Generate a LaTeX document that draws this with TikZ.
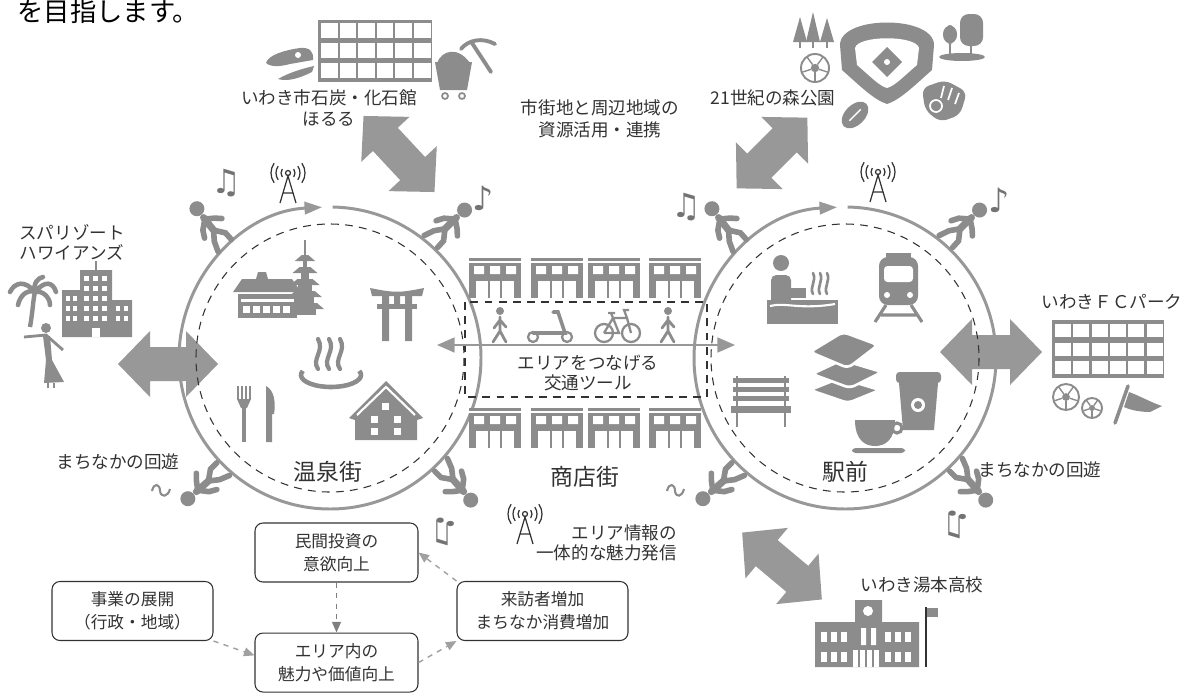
\documentclass[tikz,border=0pt]{standalone}
\usepackage{fontspec}
\setmainfont{Noto Sans CJK JP}
\newfontfamily\notefont{DejaVu Sans}
\usetikzlibrary{positioning, arrows.meta}

\definecolor{ink}{RGB}{50,50,50}
\definecolor{icon}{RGB}{140,140,140}
\definecolor{ring}{RGB}{152,152,152}
\definecolor{flow}{RGB}{160,160,160}
\definecolor{notegray}{RGB}{115,115,115}

\tikzset{
  % wide two-headed arrow between the areas
  pics/twoway/.style={code={
    \fill[ring] (-#1,0) -- (-#1+32,-33) -- (-#1+32,-17) -- (#1-32,-17) -- (#1-32,-33)
      -- (#1,0) -- (#1-32,33) -- (#1-32,17) -- (-#1+32,17) -- (-#1+32,33) -- cycle;
  }},
  pics/walker/.style={code={
    \fill[icon] (1,-22) circle (7.5);
    \draw[icon, line width=4pt, line cap=round] (0,-11) -- (-1,5);
    \draw[icon, line width=3.2pt, line cap=round]
      (-1,5) -- (-8,14) -- (-12,24) (-1,5) -- (6,15) -- (6,24)
      (0,-9) -- (-9,-2) -- (-13,5) (0,-9) -- (8,-3) -- (13,2);
  }},
  pics/pedestrian/.style={code={
    \fill[icon] (0,-17) circle (4);
    \draw[icon, line width=1.6pt, line cap=round]
      (0,-11) -- (0,3) -- (-7,14) (0,3) -- (6,14) (0,-8) -- (-6,0) (0,-8) -- (6,-1);
  }},
  pics/antenna/.style={code={
    \draw[ink, line width=0.7pt] (-8,27) -- (0,0) -- (8,27) (-5,17) -- (5,17);
    \draw[ink, line width=0.7pt] (0,-3) circle (2.5);
    \foreach \r in {7,12,17}{
      \draw[ink, line width=0.7pt] (0,-3) ++(145:\r) arc (145:215:\r);
      \draw[ink, line width=0.7pt] (0,-3) ++(-35:\r) arc (-35:35:\r);
    }
  }},
  pics/shop/.style={code={
    \fill[icon] (-26,-20) rectangle (26,20);
    \fill[white] (-21,-12) rectangle (-11,-4) (-5,-12) rectangle (5,-4) (11,-12) rectangle (21,-4);
    \fill[white] (-19,3) rectangle (19,20);
    \draw[icon, line width=0.8pt] (-6,3) -- (-6,20) (6,3) -- (6,20);
    \draw[white, line width=0.6pt] (-26,-16) -- (26,-16);
  }},
  pics/ball/.style={code={
    \draw[icon, line width=1.1pt] (0,0) circle (#1);
    \fill[icon] (0,0) circle (#1*0.3);
    \foreach \a in {18,90,162,234,306}
      \draw[icon, line width=0.8pt] (\a:#1*0.3) -- (\a:#1);
  }},
}

\begin{document}
\begin{tikzpicture}[x=0.02cm, y=-0.02cm,
  lbl/.style={text=ink, font=\fontsize{10}{11.5}\selectfont, align=center, inner sep=1pt},
  area/.style={text=ink, font=\fontsize{13}{15}\selectfont, inner sep=1pt},
  flowbox/.style={draw=ink, line width=0.6pt, rounded corners=4.5pt, text=ink,
    font=\fontsize{9.5}{13}\selectfont, align=center, minimum height=1.18cm},
  flowarrow/.style={flow, line width=0.8pt, dashed, -{Triangle[length=6pt, width=5pt]}},
  note/.style={text=notegray, font=\notefont\fontsize{19}{19}\selectfont, inner sep=0pt}]
\useasboundingbox (0,0) rectangle (1185,693);

\node[anchor=west, text=black, font=\fontsize{15}{17}\selectfont, inner sep=0pt] (goal) at (17,11) {を目指します。};

\coordinate (onsenC) at (330,358);
\coordinate (ekiC) at (845,358);

% links to the places around town
\pic[rotate=-47] at (399,154) {twoway=52};
\pic[rotate=45] at (772,153) {twoway=50};
\pic[rotate=-40] at (782,566) {twoway=52};
\pic at (168,364) {twoway=50};
\pic at (991,352) {twoway=51};

% the two loops
\foreach \c in {onsenC, ekiC}{
  \draw[ink, line width=0.6pt, dash pattern=on 4.5pt off 3.5pt] (\c) circle (134);
  \draw[ring, line width=1.7pt, -{Triangle[length=10pt, width=7pt]}] (\c) ++(271:151) arc (271:627:151);
}

% shopping street
\draw[ink, line width=0.6pt, dash pattern=on 4.5pt off 3.5pt] (465,302) rectangle (707,397);
\foreach \x in {495,557,614,675}{
  \pic at (\x,278) {shop};
  \pic at (\x,428) {shop};
}
\pic at (500,328) {pedestrian};
\pic at (668,328) {pedestrian};
% scooter
\draw[icon, line width=1.3pt] (533,337) circle (5) (567,337) circle (5);
\draw[icon, line width=2pt, line cap=round] (533,333) -- (565,333) -- (558,312) -- (553,312);
% bicycle
\draw[icon, line width=1.3pt] (604,333) circle (9) (631,333) circle (9);
\draw[icon, line width=1.3pt] (604,333) -- (613,318) -- (627,318) -- (631,333)
  (613,318) -- (619,333) -- (604,333) (627,318) -- (624,310) -- (629,310)
  (613,318) -- (611,313) (608,313) -- (615,313);
\coordinate (streetW) at (437,345);
\coordinate (streetE) at (735,345);
\draw[ring, line width=1.1pt, {Triangle[length=10pt, width=8.5pt]}-{Triangle[length=10pt, width=8.5pt]}] (streetW) -- (streetE);

% people walking round the loops
\foreach \c in {onsenC, ekiC}
  \foreach \a in {45,135,228,312}
    \pic[rotate=270-\a] at ([shift={(\a:178)}]\c) {walker};
\node[note] (n1) at (226,183) {♫};
\node[note] (n2) at (483,198) {♪};
\node[note] (n3) at (686,207) {♫};
\node[note] (n4) at (999,200) {♪};
\node[note, rotate=180] (n5) at (446,532) {♫};
\node[note, rotate=180] (n6) at (958,525) {♫};
\draw[icon, line width=1.2pt] (152,491) .. controls (154,482) and (160,484) .. (160,491) .. controls (161,498) and (168,497) .. (170,489);
\draw[icon, line width=1.2pt] (667,491) .. controls (669,482) and (675,484) .. (675,491) .. controls (676,498) and (682,497) .. (684,489);
\pic at (288,176) {antenna};
\pic at (878,175) {antenna};
\pic at (525,517) {antenna};

% hot spring town
\draw[icon, line width=1.2pt] (305,240) -- (305,258);
\foreach \i in {0,...,4}{
  \pgfmathsetmacro\w{19-2.2*\i}
  \fill[icon] (305-\w,309-12*\i) -- (305+\w,309-12*\i) -- (305+\w-7,303-12*\i) -- (305-\w+7,303-12*\i) -- cycle;
  \fill[icon] (305-\w+8,309-12*\i) rectangle (305+\w-8,315-12*\i);
}
\fill[icon] (233,292) -- (301,292) -- (292,279) -- (268,279) -- (266,272) -- (258,272) -- (256,279) -- (242,279) -- cycle;
\fill[icon] (238,294) rectangle (297,318);
\fill[white] (241,299) rectangle (294,302);
\foreach \x in {243,253,263,273,283} \fill[white] (\x,306) rectangle (\x+7,313);
\fill[icon] (370,288) .. controls (395,293) and (399,293) .. (424,288) -- (422,296) -- (372,296) -- cycle;
\fill[icon] (377,304) rectangle (417,309);
\fill[icon] (382,296) rectangle (389,341) (405,296) rectangle (412,341) (394,296) rectangle (400,304);
\draw[icon, line width=2.6pt] (331,375) ++(200:30 and 12) arc[start angle=200, end angle=-20, x radius=30, y radius=12];
\foreach \x in {318,329,340}
  \draw[icon, line width=2.4pt, line cap=round] (\x,369) .. controls (\x-7,359) and (\x+7,351) .. (\x,339);
\foreach \x in {238,242,246,250} \draw[icon, line width=1.2pt] (\x,386) -- (\x,400);
\fill[icon] (237,399) -- (251,399) -- (247,408) -- (241,408) -- cycle;
\fill[icon] (242,406) rectangle (246,442);
\fill[icon] (266,442) -- (266,386) .. controls (274,390) and (276,402) .. (274,414) -- (272,414) -- (272,442) -- cycle;
\fill[icon] (349,418) -- (386,381) -- (423,418) -- (417,420) -- (417,440) -- (355,440) -- (355,420) -- cycle;
\draw[white, line width=1.2pt] (357,415) -- (386,387) -- (415,415);
\foreach \x/\y in {371/416,394/416,371/428,394/428,382/403} \fill[white] (\x,\y) rectangle (\x+7,\y+7);

% station front
\fill[icon] (781,263) circle (8);
\fill[icon, rounded corners=3pt] (771,275) rectangle (791,305);
\fill[icon] (785,288) rectangle (806,298);
\fill[icon] (767,300) rectangle (838,324);
\draw[white, line width=1.2pt] (770,306) .. controls (785,302) and (800,310) .. (835,304);
\foreach \x in {813,820,827}
  \draw[icon, line width=1.5pt, line cap=round] (\x,294) .. controls (\x-4,287) and (\x+4,281) .. (\x,273);
\fill[icon] (886,253) rectangle (911,258);
\fill[icon, rounded corners=5pt] (879,257) rectangle (918,305);
\fill[white, rounded corners=2pt] (884,266) rectangle (913,282);
\fill[white] (887,295) circle (3) (910,295) circle (3);
\draw[icon, line width=1.8pt] (886,305) -- (875,322) (911,305) -- (922,322) (881,315) -- (916,315);
\foreach \y in {378,387,396} \fill[icon] (733,\y) rectangle (789,\y+5);
\fill[icon] (731,406) rectangle (791,413);
\draw[icon, line width=1.6pt] (737,376) -- (737,427) (785,376) -- (785,427);
\fill[icon, draw=white, line width=1.5pt, rounded corners=3pt] (810,390) -- (840,378) -- (880,390) -- (848,403) -- cycle;
\fill[icon, draw=white, line width=1.5pt, rounded corners=3pt] (812,374) -- (842,360) -- (882,372) -- (850,388) -- cycle;
\fill[icon, draw=white, line width=1.5pt, rounded corners=3pt] (810,352) -- (843,332) -- (878,345) -- (848,368) -- cycle;
\fill[icon, rounded corners=2pt] (896,372) rectangle (941,383);
\fill[icon] (899,383) -- (938,383) -- (934,430) -- (903,430) -- cycle;
\fill[white] (918,405) circle (7);
\fill[icon] (918,405) circle (4);
\fill[icon] (855,420) -- (895,420) .. controls (895,440) and (885,446) .. (875,446) .. controls (865,446) and (855,440) .. (855,420) -- cycle;
\draw[icon, line width=1.8pt] (897,428) circle (5);
\fill[icon, rounded corners=2pt] (852,448) rectangle (905,453);

% coal and fossil museum
\fill[icon] (318,20) rectangle (432,82);
\foreach \i in {0,...,5}
  \foreach \j in {0,1,2}
    \fill[white] (321+18.6*\i,23+20*\j) rectangle (337.5+18.6*\i,38+20*\j);
\fill[icon] (266,63) .. controls (268,55) and (285,50) .. (300,48) .. controls (310,47) and (314,52) .. (313,60) -- (290,64) .. controls (282,66) and (272,68) .. (266,63) -- cycle;
\fill[icon] (278,79) .. controls (290,72) and (305,68) .. (314,66) -- (312,72) .. controls (300,78) and (288,82) .. (278,79) -- cycle;
\fill[white] (298,55) circle (3);
\fill[icon] (435,62) -- (472,62) -- (467,90) -- (440,90) -- cycle;
\fill[icon] (437,63) .. controls (442,50) and (458,46) .. (470,63) -- cycle;
\draw[icon, line width=1pt] (445,96) circle (3) (462,96) circle (3);
\draw[icon, line width=2.2pt, line cap=round] (472,43) -- (491,72);
\draw[icon, line width=2.2pt, line cap=round] (461,49) .. controls (468,40) and (482,37) .. (495,44);

% forest park
\foreach \x/\t in {800/17,813/12,827/18}{
  \fill[icon] (\x,\t) -- (\x+7,42) -- (\x-7,42) -- cycle;
  \draw[icon, line width=1pt] (\x,42) -- (\x,48);
}
\pic at (815,68) {ball=14};
\fill[icon] (840,45) .. controls (840,15) and (934,15) .. (934,45) -- (932,70) .. controls (915,85) and (900,100) .. (887,104) .. controls (874,100) and (859,85) .. (842,70) -- cycle;
\fill[white] (855,48) .. controls (858,35) and (916,35) .. (919,48) -- (917,65) .. controls (905,75) and (895,86) .. (887,88) .. controls (879,86) and (869,75) .. (857,65) -- cycle;
\fill[icon] (887,47) -- (902,62) -- (887,77) -- (872,62) -- cycle;
\fill[white] (887,62) circle (3);
\fill[icon, rotate around={45:(855,115)}] (855,115) ellipse (16 and 10);
\draw[white, line width=0.8pt, rotate around={45:(855,115)}] (847,115) -- (863,115);
\fill[icon, rounded corners=4pt] (922,88) -- (945,80) -- (967,92) -- (960,115) -- (940,122) -- (925,110) -- cycle;
\draw[white, line width=1pt] (936,106) circle (6) (944,86) -- (941,98) (952,88) -- (948,100) (959,93) -- (955,104);
\fill[icon] (962,57) ellipse (23 and 4);
\fill[icon, rounded corners=5pt] (943,25) rectangle (957,44) (960,14) rectangle (983,46);
\draw[icon, line width=1.4pt] (950,44) -- (950,56) (971,46) -- (971,56);

% spa resort
\fill[icon] (80,270) rectangle (112,337) (62,290) rectangle (80,337) (112,300) rectangle (132,337);
\draw[icon, line width=1pt] (96,261) -- (96,270);
\foreach \y in {276,286,...,316} \foreach \x in {84,93,102} \fill[white] (\x,\y) rectangle (\x+5,\y+5);
\foreach \y in {296,306,316} \foreach \x in {66,73} \fill[white] (\x,\y) rectangle (\x+4,\y+5);
\foreach \y in {306,316} \foreach \x in {116,124} \fill[white] (\x,\y) rectangle (\x+4,\y+5);
\fill[white] (92,328) rectangle (100,337);
\draw[icon, line width=2.5pt] (30,327) .. controls (33,310) and (33,300) .. (35,292);
\draw[icon, line width=2.6pt, line cap=round] (35,292) .. controls (25,280) and (15,282) .. (10,292)
  (35,292) .. controls (45,280) and (53,282) .. (56,292)
  (35,292) .. controls (28,289) and (20,295) .. (18,305)
  (35,292) .. controls (42,290) and (50,297) .. (50,305)
  (35,292) .. controls (33,283) and (38,278) .. (43,277);
\fill[icon] (46,328) circle (5);
\draw[icon, line width=1.6pt] (24,337) -- (46,335) -- (63,350);
\fill[icon] (43,336) -- (50,336) -- (52,360) -- (64,382) -- (44,383) -- (46,360) -- cycle;
\draw[icon, line width=1.4pt] (48,383) -- (48,388) (54,383) -- (54,388);

% football park
\fill[icon] (1052,320) rectangle (1164,378);
\foreach \i in {0,...,5}
  \foreach \j in {0,1,2}
    \fill[white] (1055+18.3*\i,324+18.5*\j) rectangle (1071+18.3*\i,337+18.5*\j);
\pic at (1066,397) {ball=13};
\pic at (1092,408) {ball=10};
\draw[icon, line width=2pt, line cap=round] (1128,386) -- (1115,423);
\fill[icon] (1129,392) .. controls (1140,396) and (1150,402) .. (1162,406) -- (1150,412) .. controls (1140,412) and (1130,410) .. (1124,407) -- cycle;

% high school
\fill[icon] (815,622) rectangle (919,667) (855,600) rectangle (882,622);
\fill[white] (868,611) circle (5);
\foreach \x in {821,831,841,885,895,905}{
  \fill[white] (\x,632) rectangle (\x+6,642);
  \fill[white] (\x,652) rectangle (\x+6,662);
}
\fill[white] (861,628) rectangle (866,645) (871,628) rectangle (876,645);
\foreach \x in {853,860,867,874} \fill[white] (\x,650) rectangle (\x+5,667);
\draw[ink, line width=0.9pt] (926,607) -- (926,667);
\fill[icon] (927,608) rectangle (938,617);

% labels
\node[lbl] (museum) at (329,108) {いわき市石炭・化石館\\ほるる};
\node[lbl, font=\fontsize{10}{12.5}\selectfont] (linkage) at (600,119) {市街地と周辺地域の\\資源活用・連携};
\node[lbl] (forest) at (773,98) {21世紀の森公園};
\node[lbl] (resort) at (72,242) {スパリゾート\\ハワイアンズ};
\node[lbl] (fcpark) at (1112,302) {いわきＦＣパーク};
\node[lbl] (roamL) at (118,462) {まちなかの回遊};
\node[lbl] (roamR) at (1040,470) {まちなかの回遊};
\node[lbl] (transit) at (588,373) {エリアをつなげる\\交通ツール};
\node[lbl, anchor=east, align=right] (info) at (679,543) {エリア情報の\\一体的な魅力発信};
\node[lbl] (school) at (922,585) {いわき湯本高校};
\node[area] (onsen) at (328,472) {温泉街};
\node[area] (shops) at (585,477) {商店街};
\node[area] (station) at (845,472) {駅前};

% cycle of effects
\node[flowbox, minimum width=3.26cm] (invest) at (336.5,552.5) {民間投資の\\意欲向上};
\node[flowbox, minimum width=3.26cm, below=1cm of invest] (value) {エリア内の\\魅力や価値向上};
\node[flowbox, minimum width=3.22cm] (project) at (132.5,611) {事業の展開\\（行政・地域）};
\node[flowbox, minimum width=3.42cm] (visit) at (542.5,611) {来訪者増加\\まちなか消費増加};
\draw[flowarrow, flow!70!ink] (invest.south) -- (value.north);
\draw[flowarrow] (project.south east) -- (value.175);
\draw[flowarrow] (value.east) -- (visit.south west);
\draw[flowarrow] (visit.north west) -- (invest.east);
\end{tikzpicture}
\end{document}
